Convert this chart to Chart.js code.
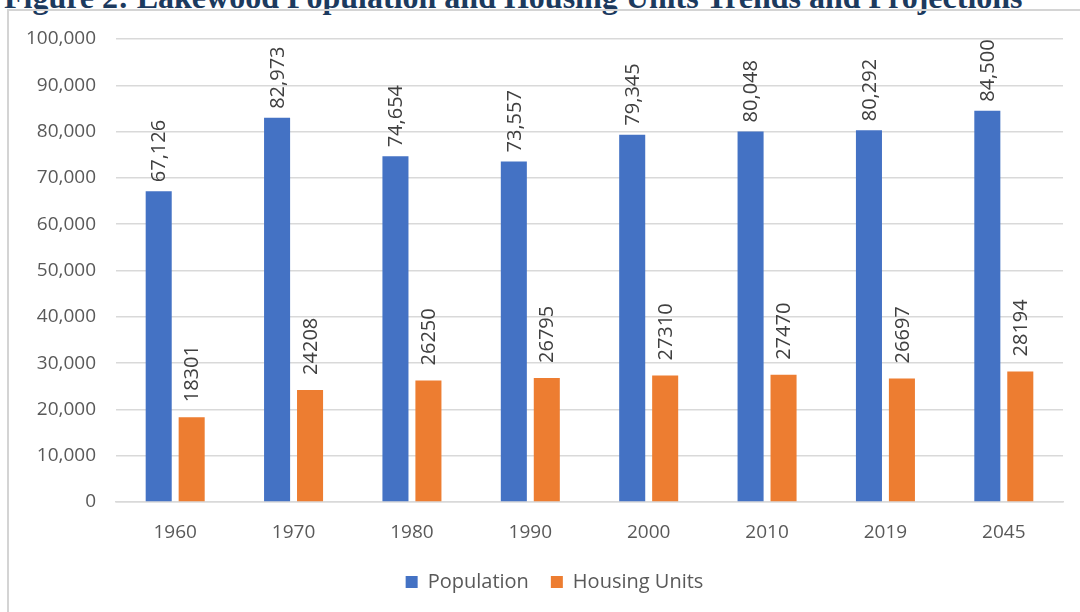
<!DOCTYPE html>
<html>
<head>
<meta charset="utf-8">
<script src="https://cdn.jsdelivr.net/npm/chart.js@4.4.1/dist/chart.umd.min.js"></script>
<style>
  html, body { margin: 0; padding: 0; background: #fff; }
  #wrap { position: relative; width: 1080px; height: 612px; overflow: hidden; background: #fff; }
  #titolo {
    position: absolute; left: 4px; top: -19px; white-space: nowrap;
    font-family: "Liberation Serif", "DejaVu Serif", serif; font-weight: bold;
    font-size: 32px; line-height: 32px; color: #1c3a5e;
  }
  #cornice {
    position: absolute; left: 7px; top: 9px; width: 1100px; height: 700px;
    border-left: 2px solid #d4d4d4; border-top: 2px solid #d4d4d4;
  }
  #grafico { position: absolute; left: 0; top: 0; }
</style>
</head>
<body>
<div id="wrap">
  <div id="titolo">Figure 2: Lakewood Population and Housing Units Trends and Projections</div>
  <div id="cornice"></div>
  <canvas id="grafico" width="1080" height="612"></canvas>
</div>
<script>
// dati
const anni = ["1960", "1970", "1980", "1990", "2000", "2010", "2019", "2045"];
const popolazione = [67126, 82973, 74654, 73557, 79345, 80048, 80292, 84500];
const abitazioni = [18301, 24208, 26250, 26795, 27310, 27470, 26697, 28194];
const tickY = [0, 10000, 20000, 30000, 40000, 50000, 60000, 70000, 80000, 90000, 100000];

const font = "'Open Sans', 'Liberation Sans', sans-serif";

// plugin per scrivere le etichette ruotate sopra le barre
const etichette = {
  id: 'etichette',
  beforeDraw(chart) {
    // sposto la legenda un po' a destra, come nell'originale
    const lg = chart.legend;
    if (lg && !lg._spostata) {
      lg.left += 23;
      lg.right += 23;
      lg._spostata = true;
    }
  },
  afterDatasetsDraw(chart) {
    const ctx = chart.ctx;
    ctx.save();
    ctx.font = "20px " + font;
    ctx.fillStyle = '#404040';
    ctx.textAlign = 'left';
    ctx.textBaseline = 'middle';
    chart.data.datasets.forEach((ds, i) => {
      const meta = chart.getDatasetMeta(i);
      const offset = i === 0 ? 9 : 15;
      meta.data.forEach((bar, j) => {
        const v = ds.data[j];
        const testo = i === 0 ? v.toLocaleString('en-US') : String(v);
        ctx.save();
        ctx.translate(bar.x, bar.y - offset);
        ctx.rotate(-Math.PI / 2);
        ctx.fillText(testo, 0, 1);
        ctx.restore();
      });
    });
    ctx.restore();
  }
};

const dataChart = {
  labels: anni,
  datasets: [{
    label: 'Population',
    data: popolazione,
    backgroundColor: '#4472C4',
    categoryPercentage: 0.557,
    barPercentage: 0.79
  }, {
    label: 'Housing Units',
    data: abitazioni,
    backgroundColor: '#ED7D31',
    categoryPercentage: 0.557,
    barPercentage: 0.79
  }]
};

const config = {
  type: 'bar',
  data: dataChart,
  options: {
    responsive: false,
    animation: false,
    layout: { padding: { left: 0, right: 17, top: 39, bottom: 10 } },
    scales: {
      x: {
        grid: { display: false, drawTicks: false },
        border: { display: true, color: '#d9d9d9', width: 1.5 },
        ticks: { color: '#595959', font: { family: font, size: 19 }, padding: 19 },
        afterFit: (s) => { s.height = 48; }
      },
      y: {
        min: 0, max: 100000,
        afterBuildTicks: (s) => { s.ticks = tickY.map(v => ({ value: v })); },
        grid: { color: '#d9d9d9', lineWidth: 1.5, drawTicks: false },
        border: { display: false },
        ticks: {
          color: '#595959', font: { family: font, size: 19 }, padding: 20,
          callback: (v) => v.toLocaleString('en-US')
        },
        afterFit: (s) => { s.width = 116; }
      }
    },
    plugins: {
      legend: {
        position: 'bottom',
        labels: {
          color: '#595959', font: { family: font, size: 20 },
          boxWidth: 12, boxHeight: 12, padding: 22
        }
      },
      tooltip: { enabled: false }
    }
  },
  plugins: [etichette]
};

const chart = new Chart(document.getElementById('grafico'), config);
</script>
</body>
</html>
